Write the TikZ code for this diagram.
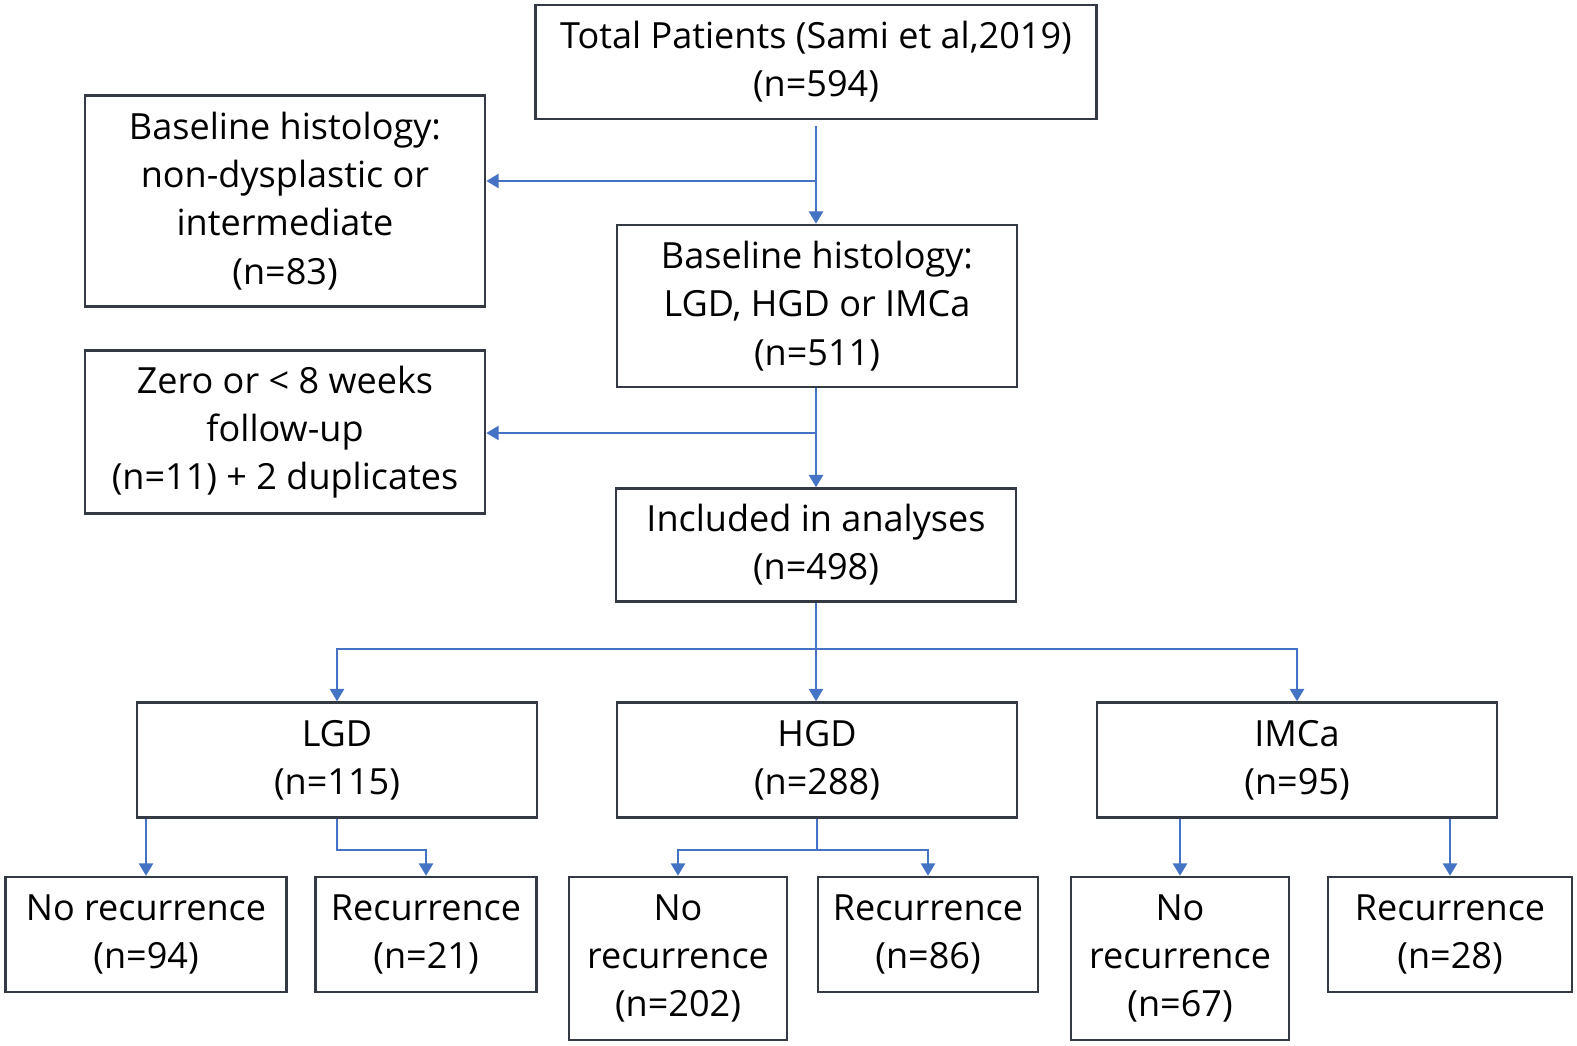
\documentclass[tikz,border=0pt]{standalone}
\usepackage{fontspec}
\setmainfont{Open Sans}
\usetikzlibrary{arrows.meta, positioning}
\definecolor{flowblue}{HTML}{4472C4}
\definecolor{boxgray}{HTML}{343A44}

\begin{document}
\begin{tikzpicture}[
  x=0.01cm, y=-0.01cm,
  every node/.style={font=\fontsize{10.25}{13.7}\selectfont},
  box/.style={rectangle, draw=boxgray, line width=0.7pt, align=center, inner sep=0pt},
  flow/.style={draw=flowblue, line width=0.6pt, -{Triangle[width=4pt, length=3.5pt]}},
  link/.style={draw=flowblue, line width=0.6pt},
]
\useasboundingbox (0,0) rectangle (1577,1045);

% screening
\node[box, minimum width=5.61cm, minimum height=1.14cm] (total) at (816,62) {Total Patients (Sami et al,2019)\\(n=594)};
\node[box, minimum width=4cm, minimum height=2.11cm] (nondys) at (285,201) {Baseline histology:\\non-dysplastic or\\intermediate\\(n=83)};
\node[box, minimum width=4cm, minimum height=1.62cm] (dysp) at (817,306) {Baseline histology:\\LGD, HGD or IMCa\\(n=511)};
\node[box, minimum width=4cm, minimum height=1.63cm] (excl) at (285,432) {Zero or < 8 weeks\\follow-up\\(n=11) + 2 duplicates};
\node[box, minimum width=4cm, minimum height=1.13cm] (incl) at (816,545) {Included in analyses\\(n=498)};

% groups
\node[box, minimum width=4cm, minimum height=1.15cm] (lgd) at (337,760) {LGD\\(n=115)};
\node[box, minimum width=4cm, minimum height=1.15cm] (hgd) at (817,760) {HGD\\(n=288)};
\node[box, minimum width=4cm, minimum height=1.15cm] (imca) at (1297,760) {IMCa\\(n=95)};

% outcomes
\node[box, minimum width=2.81cm, minimum height=1.15cm] (lgdno) at (146,934.5) {No recurrence\\(n=94)};
\node[box, minimum width=2.21cm, minimum height=1.15cm] (lgdyes) at (426,934.5) {Recurrence\\(n=21)};
\node[box, minimum width=2.18cm, minimum height=1.63cm] (hgdno) at (678,958.5) {No\\recurrence\\(n=202)};
\node[box, minimum width=2.2cm, minimum height=1.15cm] (hgdyes) at (928,934.5) {Recurrence\\(n=86)};
\node[box, minimum width=2.18cm, minimum height=1.63cm] (imcano) at (1180,958.5) {No\\recurrence\\(n=67)};
\node[box, minimum width=2.44cm, minimum height=1.15cm] (imcayes) at (1450,934.5) {Recurrence\\(n=28)};

% main flow
\coordinate (cut1) at (total.south |- 0,181);
\coordinate (cut2) at (total.south |- 0,433);
\coordinate (fan) at (total.south |- 0,649);
\draw[flow] ([yshift=-1.5pt]total.south) -- (total.south |- dysp.north);
\draw[flow] (cut1) -- (cut1 -| nondys.east);
\draw[flow] (total.south |- dysp.south) -- (total.south |- incl.north);
\draw[flow] (cut2) -- (cut2 -| excl.east);
\draw[link] (total.south |- incl.south) -- (fan);
\draw[flow] (fan) -| (lgd.north);
\draw[flow] (fan) -| (imca.north);
\draw[flow] (fan) -- (fan |- hgd.north);

% branches
\draw[flow] (lgd.south -| lgdno.north) -- (lgdno.north);
\draw[flow] (lgd.south) -- ++(0,31) -| (lgdyes.north);
\draw[flow] (hgd.south) -- ++(0,31) -| (hgdno.north);
\draw[flow] (hgd.south) -- ++(0,31) -| (hgdyes.north);
\draw[flow] (imca.south -| imcano.north) -- (imcano.north);
\draw[flow] (imca.south -| imcayes.north) -- (imcayes.north);

\end{tikzpicture}
\end{document}
